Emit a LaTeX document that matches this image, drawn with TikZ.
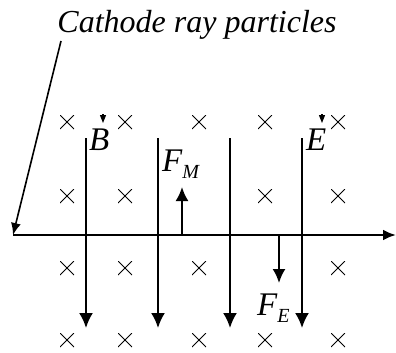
\documentclass[tikz,border=0pt]{standalone}
\usepackage{fontspec}
\setmainfont{Liberation Serif}
\usetikzlibrary{arrows.meta, positioning, calc}
\tikzset{
  ttl/.style={font=\fontsize{32}{32}\selectfont\itshape, inner sep=0pt},
  sym/.style={font=\fontsize{33}{33}\selectfont\itshape, inner sep=0pt},
  crs/.style={minimum size=14pt, inner sep=0pt,
              path picture={\draw[line width=1pt]
                (path picture bounding box.south west) -- (path picture bounding box.north east)
                (path picture bounding box.north west) -- (path picture bounding box.south east);}},
  axis/.style={-{Latex[length=13pt, width=11pt]}, line width=2.6pt},
  fld/.style={-{Latex[length=15pt, width=14pt]}, line width=2pt},
  force/.style={-{Latex[length=14pt, width=13pt]}, line width=2pt},
  pointer/.style={-{Latex[length=12pt, width=10pt]}, line width=1.6pt},
  vmark/.style={-{Triangle[length=8pt, width=6pt]}, line width=1.2pt},
}
\newcommand{\subE}[1]{\raisebox{-0.22em}{\fontsize{20}{20}\selectfont\itshape #1}}

\begin{document}
\begin{tikzpicture}[x=1pt, y=-1pt]
  \useasboundingbox (0,0) rectangle (396,353);
  \node[ttl, anchor=base] (cathode) at (197,33) {Cathode ray particles};
  % crosses of the field into the page
  \foreach \n/\x/\y in {a1/67/122, a2/125/122, a3/199/122, a4/265/122, a5/338/122,
                        b1/67/196, b2/125/196, b4/265/196, b5/338/196,
                        c1/67/268, c2/125/268, c3/199/268, c5/338/268,
                        d1/67/340, d2/125/340, d3/199/340, d4/265/340, d5/338/340}
    \node[crs] (\n) at (\x,\y) {};
  % beam axis
  \coordinate (axl) at (13,235);
  \coordinate (axr) at (396,235);
  \draw[axis] (axl) -- (axr);
  \coordinate (pstart) at (61,41);
  \draw[pointer] (pstart) -- (axl);
  % electric field lines
  \foreach \i/\x in {1/86, 2/158, 3/230, 4/302} {
    \coordinate (t\i) at (\x,138);
    \coordinate (b\i) at (\x,328);
    \draw[fld] (t\i) -- (b\i);
  }
  % field labels
  \node[sym, anchor=base west] (bfield) at (89,150) {B};
  \node[sym, anchor=base west] (efield) at (306,150) {E};
  \coordinate (bv0) at (103,114);
  \coordinate (bv1) at (103,123);
  \coordinate (ev0) at (322,114);
  \coordinate (ev1) at (322,123);
  \draw[vmark] (bv0) -- (bv1);
  \draw[vmark] (ev0) -- (ev1);
  % forces
  \coordinate (fm0) at (182,235);
  \coordinate (fm1) at (182,187);
  \draw[force] (fm0) -- (fm1);
  \node[sym, anchor=base west] (fmlbl) at (162,171) {F\subE{M}};
  \coordinate (fe0) at (279,235);
  \coordinate (fe1) at (279,283);
  \draw[force] (fe0) -- (fe1);
  \node[sym, anchor=base west] (felbl) at (257,315) {F\subE{E}};
\end{tikzpicture}
\end{document}
